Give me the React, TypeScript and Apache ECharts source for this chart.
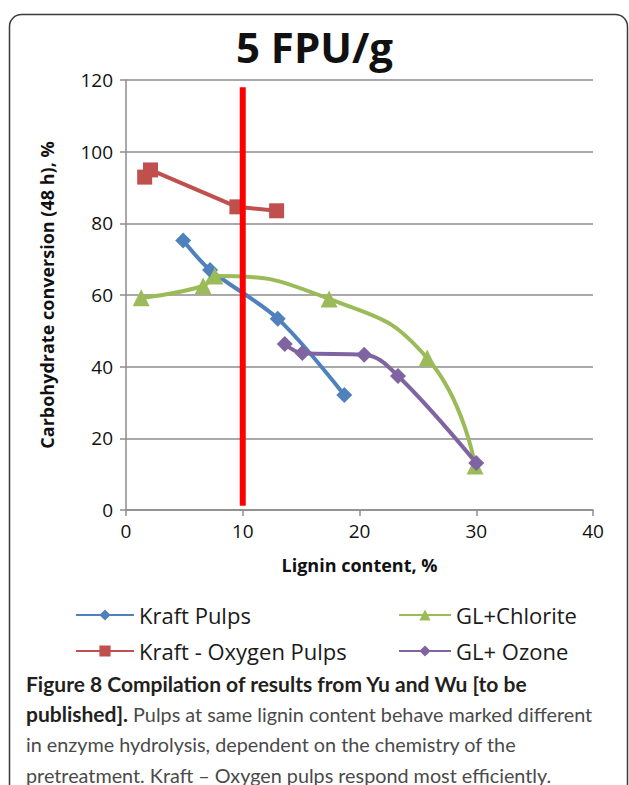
import React, { useEffect, useRef } from "react";
import * as echarts from "echarts";

// ---- data ----
const kraftPulpsX = [4.9, 7.2, 13.0, 18.7];
const kraftPulpsY = [75.2, 67.0, 53.4, 32.1];

const kraftOxygenX = [1.6, 2.1, 9.5, 12.9];
const kraftOxygenY = [92.9, 94.9, 84.6, 83.5];

const glChloriteX = [1.3, 6.6, 7.6, 17.4, 25.8, 29.9];
const glChloriteY = [59.2, 62.5, 65.3, 58.9, 42.4, 12.3];

const glOzoneX = [13.6, 15.1, 20.4, 23.3, 30.0];
const glOzoneY = [46.3, 43.8, 43.3, 37.4, 13.1];

const refLineX = [10, 10];
const refLineY = [1.2, 118];

const seriesNames = ["Kraft Pulps", "Kraft - Oxygen Pulps", "GL+Chlorite", "GL+ Ozone"];
const seriesColors = ["#4F81BD", "#C0504D", "#9BBB59", "#8064A2"];

const captionLines = [
  "Figure 8 Compilation of results from Yu and Wu [to be",
  "{b|published].} Pulps at same lignin content behave marked different",
  "in enzyme hydrolysis, dependent on the chemistry of the",
  "pretreatment. Kraft \u2013 Oxygen pulps respond most efficiently.",
];

const zip = (xs: number[], ys: number[]) => xs.map((x, i) => [x, ys[i]]);

export default function App() {
  const ref = useRef<HTMLDivElement>(null);
  useEffect(() => {
    if (!ref.current) return;
    const chart = echarts.init(ref.current, undefined, { renderer: "svg" });
    const axisColor = "#8c8c8c";
    const font = "Open Sans";
    const captionFont = "Lato";
    const lineSeries = (i: number, xs: number[], ys: number[], symbol: string, size: number, smooth: number | boolean) => ({
      name: seriesNames[i],
      type: "line",
      data: zip(xs, ys),
      symbol,
      symbolSize: size,
      smooth,
      lineStyle: { color: seriesColors[i], width: 4 },
      itemStyle: { color: seriesColors[i] },
      z: 3,
    });
    const legendCommon = {
      orient: "vertical",
      top: 597,
      itemHeight: 14,
      itemGap: 10,
      textStyle: { fontSize: 22, fontFamily: font, color: "#1a1a1a", lineHeight: 26 },
    };
    chart.setOption({
      animation: false,
      backgroundColor: "#fff",
      title: {
        text: "5 FPU/g",
        left: "center",
        top: 20,
        textStyle: { fontSize: 42, fontWeight: "bold", fontFamily: "Open Sans", color: "#111" },
      },
      grid: { left: 126, top: 80, width: 467, height: 430 },
      xAxis: {
        type: "value",
        min: 0,
        max: 40,
        interval: 10,
        axisLine: { show: true, lineStyle: { color: axisColor, width: 1.5 } },
        axisTick: { show: true, length: 6, lineStyle: { color: axisColor, width: 1.5 } },
        splitLine: { show: false },
        axisLabel: { fontSize: 19, fontFamily: font, color: "#111", margin: 11 },
        name: "Lignin content, %",
        nameLocation: "middle",
        nameGap: 46,
        nameTextStyle: { fontSize: 18, fontWeight: "bold", fontFamily: font, color: "#111" },
      },
      yAxis: {
        type: "value",
        min: 0,
        max: 120,
        interval: 20,
        axisLine: { show: true, lineStyle: { color: axisColor, width: 1.5 } },
        axisTick: { show: true, length: 6, lineStyle: { color: axisColor, width: 1.5 } },
        splitLine: { show: true, lineStyle: { color: axisColor, width: 1.5 } },
        axisLabel: { fontSize: 19, fontFamily: font, color: "#111", margin: 13 },
        name: "Carbohydrate conversion (48 h), %",
        nameLocation: "middle",
        nameGap: 70,
        nameTextStyle: { fontSize: 18, fontWeight: "bold", fontFamily: font, color: "#111" },
      },
      legend: [
        { ...legendCommon, left: 70, itemWidth: 58, data: [seriesNames[0], seriesNames[1]] },
        { ...legendCommon, left: 393, itemWidth: 52, data: [seriesNames[2], seriesNames[3]] },
      ],
      series: [
        lineSeries(0, kraftPulpsX, kraftPulpsY, "diamond", 16, 0.3),
        lineSeries(1, kraftOxygenX, kraftOxygenY, "rect", 15, false),
        lineSeries(2, glChloriteX, glChloriteY, "triangle", 17, 0.5),
        lineSeries(3, glOzoneX, glOzoneY, "diamond", 16, 0.4),
        {
          name: "ref",
          type: "line",
          data: zip(refLineX, refLineY),
          symbol: "none",
          lineStyle: { color: "#FF0000", width: 6 },
          z: 5,
        },
      ],
      graphic: [
        {
          type: "rect",
          silent: true,
          shape: { x: 9.5, y: 14.5, width: 618, height: 785, r: 12 },
          style: { fill: "none", stroke: "#3a3a3a", lineWidth: 1.5 },
        },
        ...captionLines.map((t, i) => ({
          type: "text",
          x: 26,
          y: 683 + i * 30.5,
          style: {
            text: t,
            fontSize: i === 0 ? 21 : 19.8,
            fontFamily: captionFont,
            fontWeight: i === 0 ? "bold" : "normal",
            fill: i === 0 ? "#231f20" : "#4a4a4a",
            verticalAlign: "middle",
            align: "left",
            rich: {
              b: { fontSize: 21, fontFamily: captionFont, fontWeight: "bold", fill: "#231f20" },
            },
          },
        })),
      ],
    });
    return () => chart.dispose();
  }, []);
  return (
    <div
      ref={ref}
      style={{ position: "fixed", left: 0, top: 0, width: 629, height: 785, background: "#fff" }}
    />
  );
}
